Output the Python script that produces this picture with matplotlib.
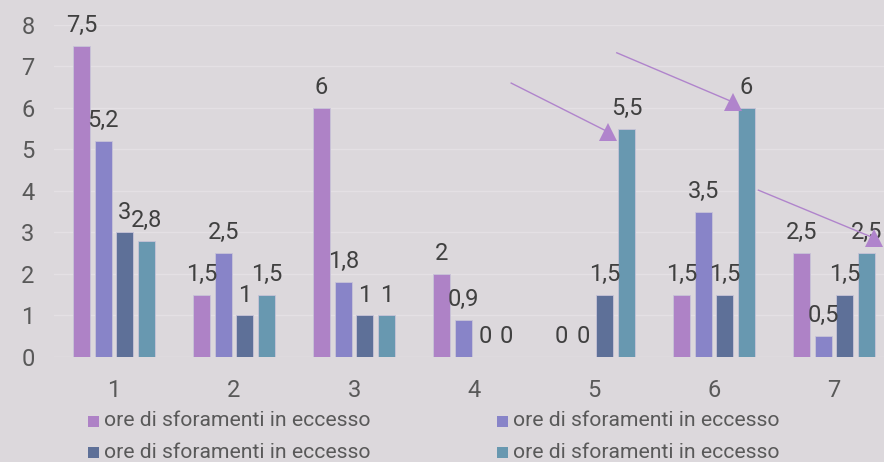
import matplotlib
matplotlib.use("Agg")
import matplotlib.pyplot as plt
import numpy as np
from matplotlib.patches import Rectangle

categories = ["1", "2", "3", "4", "5", "6", "7"]
series_names = ["ore di sforamenti in eccesso"] * 4
s1 = [7.5, 1.5, 6, 2, 0, 1.5, 2.5]
s2 = [5.2, 2.5, 1.8, 0.9, 0, 3.5, 0.5]
s3 = [3, 1, 1, 0, 1.5, 1.5, 1.5]
s4 = [2.8, 1.5, 1, 0, 5.5, 6, 2.5]
series = [s1, s2, s3, s4]
colors = ["#AE82C6", "#8884C8", "#5E7098", "#6898B0"]

# annotation arrows (data coords): start -> end
arrows = [((4.31, 6.60), (5.12, 5.42)),
          ((5.19, 7.33), (6.16, 6.14)),
          ((6.37, 4.02), (7.33, 2.87))]

bg = "#DCD8DC"
plt.rcParams['font.family'] = ['Roboto', 'DejaVu Sans']

W, H = 884, 462
fig = plt.figure(figsize=(W / 100, H / 100), dpi=100, facecolor=bg)
ax = fig.add_axes([0.0611, 0.2273, 0.9502, 0.7186])
ax.set_facecolor(bg)

x = np.arange(1, len(categories) + 1)
w = 0.142
step = 0.181
offsets = (np.arange(4) - 1.5) * step
for i, (vals, c) in enumerate(zip(series, colors)):
    ax.bar(x + offsets[i], vals, width=w, color=c, edgecolor="#C8C4D8",
           linewidth=0.6, zorder=3)
    for xi, v in zip(x + offsets[i], vals):
        lab = ("%g" % v).replace(".", ",")
        ax.annotate(lab, (xi, v), xytext=(0, 10), textcoords="offset points",
                    ha="center", va="baseline", fontsize=17, color="#404040",
                    zorder=5)

for (x0, y0), (x1, y1) in arrows:
    ax.plot([x0, x1], [y0, y1], color="#B084CC", lw=1.0, zorder=6,
            clip_on=False)
    ax.plot([x1], [y1], marker="^", markersize=13, color="#B084CC",
            markeredgewidth=0, zorder=6, clip_on=False)

ax.set_xlim(0.5, 7.5)
ax.set_ylim(0, 8)
ax.set_yticks(range(0, 9))
ax.set_xticks(x)
ax.set_xticklabels(categories)
ax.tick_params(axis="both", length=0, labelsize=17, labelcolor="#595959")
ax.tick_params(axis="y", pad=14)
ax.tick_params(axis="x", pad=16)
ax.grid(axis="y", color="#E4E0E4", linewidth=1.0, zorder=0)
for sp in ax.spines.values():
    sp.set_visible(False)
ax.axhline(0, color="#E4E0E4", lw=1.0, zorder=1)

# legend drawn manually, row-wise: row1 s1,s2 ; row2 s3,s4
leg_pos = [(88, 421), (497, 421), (88, 452), (497, 452)]  # pixel layout
sq = 11
for i, (px, py) in enumerate(leg_pos):
    fig.patches.append(Rectangle((px / W, (H - py - sq / 2) / H), sq / W, sq / H,
                                 transform=fig.transFigure, facecolor=colors[i],
                                 edgecolor="none"))
    fig.text((px + sq + 5) / W, (H - py) / H, series_names[i], ha="left",
             va="center", fontsize=15.2, color="#595959")

fig.savefig("out.png", dpi=100, facecolor=bg)
